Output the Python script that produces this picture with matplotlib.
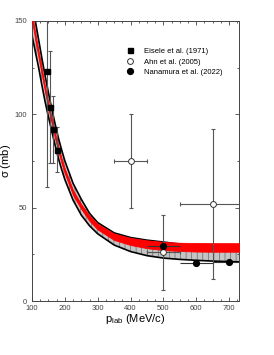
import matplotlib
matplotlib.use("Agg")
import matplotlib.pyplot as plt
import numpy as np

plt.rcParams['font.family'] = ['Liberation Sans', 'DejaVu Sans']
plt.rcParams['mathtext.default'] = 'regular'
plt.rcParams['hatch.linewidth'] = 0.5

# ---- model bands ----
p_grid = [100, 110, 120, 130, 140, 150, 160, 170, 180, 190, 200, 225, 250, 275,
          300, 350, 400, 450, 500, 550, 600, 650, 700, 730]
band_upper = [160, 150, 140, 130, 120.5, 111.5, 103, 95, 87.5, 81, 75, 63, 54.5, 47,
              42, 36.5, 34, 32.6, 31.6, 30.5, 29.5, 28.7, 28, 27.6]
band_lower = [142, 133.5, 125, 115.5, 106.5, 98.5, 91, 83.5, 76.5, 70.5, 65, 54, 46, 40.3,
              36, 30, 26.5, 24.3, 23, 22.3, 21.8, 21.4, 21.1, 21]
red_center = [152, 141.5, 132, 122.5, 113, 104.5, 96.5, 88.5, 81.5, 75, 69.5, 58, 50.5, 44.3,
              39.8, 34.4, 31.9, 30.4, 29.5, 29.0, 28.8, 28.7, 28.7, 28.7]
red_halfwidth = [1.8, 1.8, 1.7, 1.6, 1.5, 1.5, 1.4, 1.4, 1.3, 1.3, 1.3, 1.3, 1.3, 1.4,
                 1.5, 1.7, 1.9, 2.1, 2.2, 2.2, 2.3, 2.3, 2.3, 2.3]

# ---- data ----
eisele_p = [145, 155, 165, 175]
eisele_s = [123, 104, 92, 81]
eisele_err = [62, 30, 18, 12]

ahn_p = [400, 500, 650]
ahn_s = [75, 26, 52]
ahn_perr = [50, 50, 100]
ahn_serr = [25, 20, 40]

nan_p = [500, 600, 700]
nan_s = [29.5, 20.5, 21]
nan_perr = [50, 50, 50]
nan_serr = [1.5, 1.0, 1.5]

fig = plt.figure(figsize=(2.74, 3.55), dpi=100)
ax = fig.add_axes([0.117, 0.152, 0.755, 0.789])

pg = np.array(p_grid)
rc = np.array(red_center)
rh = np.array(red_halfwidth)

ax.fill_between(pg, band_lower, band_upper, facecolor='#c4c4c4', edgecolor='#6a6a6a',
                hatch='|||', linewidth=0, zorder=1)
ax.plot(pg, band_upper, color='black', lw=1.2, zorder=2)
ax.plot(pg, band_lower, color='black', lw=1.2, zorder=2)
ax.fill_between(pg, rc - rh, rc + rh, facecolor='#ff0000', edgecolor='#ff0000',
                linewidth=0.6, zorder=3)

ecol = '#555555'
ax.errorbar(eisele_p, eisele_s, yerr=eisele_err, fmt='none', ecolor=ecol,
            elinewidth=0.8, capsize=1.5, capthick=0.8, zorder=4)
ax.errorbar(ahn_p, ahn_s, xerr=ahn_perr, yerr=ahn_serr, fmt='none', ecolor=ecol,
            elinewidth=0.8, capsize=1.5, capthick=0.8, zorder=4)
ax.errorbar(nan_p, nan_s, xerr=nan_perr, yerr=nan_serr, fmt='none', ecolor='#333333',
            elinewidth=0.8, capsize=0, zorder=4)

ax.plot(eisele_p, eisele_s, 's', color='black', ms=3.6, ls='none',
        label='Eisele et al. (1971)', zorder=5)
ax.plot(ahn_p, ahn_s, 'o', mfc='white', mec='#333333', mew=0.7, ms=4.2, ls='none',
        label='Ahn et al. (2005)', zorder=5)
ax.plot(nan_p, nan_s, 'o', color='black', ms=4.2, ls='none',
        label='Nanamura et al. (2022)', zorder=5)

ax.set_xlim(100, 730)
ax.set_ylim(0, 150)
ax.set_xticks([100, 200, 300, 400, 500, 600, 700])
ax.set_yticks([0, 50, 100, 150])
ax.set_xticks(np.arange(100, 731, 25), minor=True)
ax.set_yticks(np.arange(0, 151, 25), minor=True)
ax.tick_params(which='both', direction='in', top=True, right=True, colors='#444444',
               labelsize=5.5, width=0.6)
ax.tick_params(axis='x', pad=2.5)
ax.tick_params(axis='y', pad=3.5)
ax.tick_params(which='major', length=3)
ax.tick_params(which='minor', length=1.6)
for s in ax.spines.values():
    s.set_color('#444444')
    s.set_linewidth(0.7)

ax.set_xlabel(r'$p_{lab}$ (MeV/c)', fontsize=8, labelpad=0.5)
ax.set_ylabel(r'$\sigma$ (mb)', fontsize=8, labelpad=1)

ax.legend(loc='upper left', bbox_to_anchor=(0.44, 0.915), frameon=False, fontsize=5.5,
          handlelength=1.0, handletextpad=1.4, labelspacing=0.4, borderaxespad=0)

fig.savefig('out.png', dpi=100)
